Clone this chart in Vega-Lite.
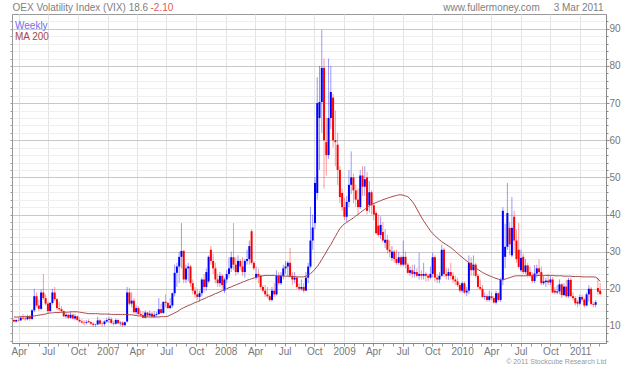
{
  "$schema": "https://vega.github.io/schema/vega-lite/v6.json",
  "width": 594,
  "height": 329,
  "autosize": {"type": "none"},
  "padding": {"left": 12, "top": 14, "right": 34, "bottom": 23},
  "background": "white",
  "config": {
    "font": "Liberation Sans",
    "view": {"stroke": "#999999"}
  },
  "data": {"values": [
{"d":"2006-03-17","o":11.6,"h":12.0,"l":11.0,"c":11.2,"m":12.4},
{"d":"2006-03-24","o":11.2,"h":11.8,"l":10.9,"c":11.6,"m":12.4},
{"d":"2006-03-31","o":11.6,"h":12.3,"l":11.1,"c":11.5,"m":12.4},
{"d":"2006-04-07","o":11.5,"h":12.6,"l":11.3,"c":12.2,"m":12.5},
{"d":"2006-04-14","o":12.2,"h":13.2,"l":11.6,"c":12.0,"m":12.5},
{"d":"2006-04-21","o":12.0,"h":12.8,"l":11.4,"c":11.8,"m":12.5},
{"d":"2006-04-28","o":11.8,"h":13.0,"l":11.5,"c":12.5,"m":12.5},
{"d":"2006-05-05","o":12.5,"h":12.8,"l":11.4,"c":11.9,"m":12.6},
{"d":"2006-05-12","o":11.9,"h":14.5,"l":11.6,"c":14.2,"m":12.6},
{"d":"2006-05-19","o":14.2,"h":20.0,"l":13.8,"c":18.0,"m":12.7},
{"d":"2006-05-26","o":18.0,"h":19.0,"l":15.0,"c":15.5,"m":12.8},
{"d":"2006-06-02","o":15.5,"h":17.0,"l":14.0,"c":14.6,"m":12.9},
{"d":"2006-06-09","o":14.6,"h":19.8,"l":14.2,"c":19.0,"m":13.0},
{"d":"2006-06-16","o":19.0,"h":24.0,"l":17.0,"c":17.5,"m":13.1},
{"d":"2006-06-23","o":17.5,"h":18.5,"l":15.5,"c":16.0,"m":13.2},
{"d":"2006-06-30","o":16.0,"h":16.5,"l":13.5,"c":14.0,"m":13.4},
{"d":"2006-07-07","o":14.0,"h":16.5,"l":13.8,"c":16.2,"m":13.5},
{"d":"2006-07-14","o":16.2,"h":20.0,"l":15.8,"c":19.0,"m":13.5},
{"d":"2006-07-21","o":19.0,"h":20.5,"l":16.8,"c":17.2,"m":13.6},
{"d":"2006-07-28","o":17.2,"h":17.5,"l":14.3,"c":14.8,"m":13.6},
{"d":"2006-08-04","o":14.8,"h":16.5,"l":14.0,"c":14.5,"m":13.6},
{"d":"2006-08-11","o":14.5,"h":15.3,"l":13.5,"c":14.0,"m":13.7},
{"d":"2006-08-18","o":14.0,"h":14.2,"l":12.3,"c":12.6,"m":13.7},
{"d":"2006-08-25","o":12.6,"h":13.5,"l":12.0,"c":13.0,"m":13.7},
{"d":"2006-09-01","o":13.0,"h":13.2,"l":11.8,"c":12.2,"m":13.7},
{"d":"2006-09-08","o":12.2,"h":13.8,"l":11.9,"c":13.0,"m":13.8},
{"d":"2006-09-15","o":13.0,"h":13.3,"l":11.8,"c":12.0,"m":13.8},
{"d":"2006-09-22","o":12.0,"h":13.2,"l":11.5,"c":12.6,"m":13.8},
{"d":"2006-09-29","o":12.6,"h":12.8,"l":11.3,"c":11.6,"m":13.8},
{"d":"2006-10-06","o":11.6,"h":12.3,"l":10.9,"c":11.2,"m":13.7},
{"d":"2006-10-13","o":11.2,"h":11.8,"l":10.6,"c":10.9,"m":13.6},
{"d":"2006-10-20","o":10.9,"h":11.6,"l":10.2,"c":10.8,"m":13.5},
{"d":"2006-10-27","o":10.8,"h":11.6,"l":10.4,"c":11.0,"m":13.4},
{"d":"2006-11-03","o":11.3,"h":11.8,"l":10.8,"c":11.0,"m":13.3},
{"d":"2006-11-10","o":11.0,"h":11.3,"l":10.3,"c":10.6,"m":13.3},
{"d":"2006-11-17","o":10.6,"h":11.0,"l":9.7,"c":10.3,"m":13.3},
{"d":"2006-11-24","o":10.3,"h":10.6,"l":9.8,"c":10.4,"m":13.3},
{"d":"2006-12-01","o":10.4,"h":12.5,"l":10.2,"c":11.5,"m":13.3},
{"d":"2006-12-08","o":11.5,"h":11.8,"l":10.2,"c":10.6,"m":13.2},
{"d":"2006-12-15","o":10.6,"h":11.2,"l":9.9,"c":10.5,"m":13.2},
{"d":"2006-12-22","o":10.5,"h":11.5,"l":10.0,"c":11.2,"m":13.2},
{"d":"2006-12-29","o":11.2,"h":12.2,"l":10.8,"c":11.6,"m":13.2},
{"d":"2007-01-05","o":11.6,"h":12.5,"l":10.8,"c":11.8,"m":13.2},
{"d":"2007-01-12","o":11.8,"h":12.3,"l":10.5,"c":10.8,"m":13.1},
{"d":"2007-01-19","o":10.8,"h":11.4,"l":10.1,"c":10.6,"m":13.1},
{"d":"2007-01-26","o":10.6,"h":12.0,"l":10.3,"c":11.6,"m":13.1},
{"d":"2007-02-02","o":11.6,"h":11.8,"l":10.4,"c":10.7,"m":13.1},
{"d":"2007-02-09","o":10.7,"h":11.3,"l":10.0,"c":10.9,"m":13.1},
{"d":"2007-02-16","o":10.9,"h":11.3,"l":9.8,"c":10.2,"m":13.1},
{"d":"2007-02-23","o":10.2,"h":11.2,"l":9.9,"c":11.0,"m":13.1},
{"d":"2007-03-02","o":11.2,"h":20.5,"l":10.9,"c":19.0,"m":13.1},
{"d":"2007-03-09","o":19.0,"h":20.3,"l":15.5,"c":16.0,"m":13.0},
{"d":"2007-03-16","o":16.0,"h":19.0,"l":15.0,"c":16.8,"m":13.0},
{"d":"2007-03-23","o":16.8,"h":17.5,"l":13.3,"c":13.7,"m":12.9},
{"d":"2007-03-30","o":13.7,"h":15.5,"l":13.0,"c":14.8,"m":12.8},
{"d":"2007-04-06","o":14.8,"h":15.3,"l":13.0,"c":13.2,"m":12.7},
{"d":"2007-04-13","o":13.2,"h":14.2,"l":12.5,"c":12.9,"m":12.7},
{"d":"2007-04-20","o":12.9,"h":14.0,"l":12.1,"c":12.2,"m":12.6},
{"d":"2007-04-27","o":12.2,"h":14.2,"l":12.0,"c":13.6,"m":12.5},
{"d":"2007-05-04","o":13.6,"h":13.8,"l":12.4,"c":12.8,"m":12.4},
{"d":"2007-05-11","o":12.8,"h":14.2,"l":12.5,"c":13.3,"m":12.4},
{"d":"2007-05-18","o":13.3,"h":13.8,"l":12.2,"c":12.5,"m":12.4},
{"d":"2007-05-25","o":12.5,"h":14.0,"l":12.2,"c":13.0,"m":12.4},
{"d":"2007-06-01","o":13.0,"h":13.8,"l":12.4,"c":13.2,"m":12.4},
{"d":"2007-06-08","o":13.2,"h":17.5,"l":12.9,"c":14.5,"m":12.4},
{"d":"2007-06-15","o":14.5,"h":16.0,"l":13.2,"c":13.5,"m":12.5},
{"d":"2007-06-22","o":13.5,"h":16.5,"l":13.2,"c":16.5,"m":12.5},
{"d":"2007-06-29","o":16.5,"h":18.5,"l":15.0,"c":16.2,"m":12.5},
{"d":"2007-07-06","o":16.2,"h":16.5,"l":14.5,"c":14.8,"m":12.6},
{"d":"2007-07-13","o":14.8,"h":17.5,"l":14.5,"c":15.5,"m":12.9},
{"d":"2007-07-20","o":15.5,"h":19.0,"l":14.9,"c":18.8,"m":13.2},
{"d":"2007-07-27","o":18.8,"h":26.5,"l":18.0,"c":24.3,"m":13.5},
{"d":"2007-08-03","o":24.3,"h":27.0,"l":20.5,"c":26.0,"m":13.8},
{"d":"2007-08-10","o":26.0,"h":30.0,"l":21.5,"c":28.6,"m":14.2},
{"d":"2007-08-17","o":28.6,"h":37.7,"l":25.5,"c":30.2,"m":14.6},
{"d":"2007-08-24","o":30.2,"h":30.5,"l":21.5,"c":22.5,"m":14.9},
{"d":"2007-08-31","o":22.5,"h":26.5,"l":21.5,"c":25.5,"m":15.2},
{"d":"2007-09-07","o":25.5,"h":27.0,"l":22.0,"c":26.0,"m":15.5},
{"d":"2007-09-14","o":26.0,"h":26.5,"l":20.5,"c":21.5,"m":15.7},
{"d":"2007-09-21","o":21.5,"h":22.5,"l":18.5,"c":19.5,"m":16.0},
{"d":"2007-09-28","o":19.5,"h":20.5,"l":17.5,"c":18.5,"m":16.3},
{"d":"2007-10-05","o":18.5,"h":20.0,"l":17.0,"c":17.8,"m":16.5},
{"d":"2007-10-12","o":17.8,"h":19.5,"l":16.5,"c":18.8,"m":16.8},
{"d":"2007-10-19","o":18.8,"h":23.0,"l":18.0,"c":22.5,"m":17.1},
{"d":"2007-10-26","o":22.5,"h":24.0,"l":19.0,"c":20.5,"m":17.3},
{"d":"2007-11-02","o":20.5,"h":25.5,"l":19.5,"c":24.5,"m":17.6},
{"d":"2007-11-09","o":22.0,"h":29.0,"l":21.5,"c":28.6,"m":17.9},
{"d":"2007-11-16","o":30.5,"h":31.5,"l":26.5,"c":27.5,"m":18.1},
{"d":"2007-11-23","o":27.5,"h":29.5,"l":24.0,"c":25.5,"m":18.4},
{"d":"2007-11-30","o":25.5,"h":27.0,"l":21.5,"c":22.5,"m":18.7},
{"d":"2007-12-07","o":22.5,"h":24.0,"l":20.5,"c":21.5,"m":18.9},
{"d":"2007-12-14","o":21.5,"h":24.5,"l":20.5,"c":23.5,"m":19.2},
{"d":"2007-12-21","o":23.5,"h":24.0,"l":20.0,"c":21.0,"m":19.5},
{"d":"2007-12-28","o":19.5,"h":23.0,"l":18.8,"c":22.5,"m":19.8},
{"d":"2008-01-04","o":22.5,"h":25.0,"l":21.5,"c":24.0,"m":20.0},
{"d":"2008-01-11","o":24.0,"h":28.5,"l":23.0,"c":25.5,"m":20.3},
{"d":"2008-01-18","o":25.5,"h":30.0,"l":24.5,"c":28.5,"m":20.5},
{"d":"2008-01-25","o":28.5,"h":37.7,"l":25.0,"c":26.5,"m":20.8},
{"d":"2008-02-01","o":26.5,"h":28.5,"l":23.5,"c":24.5,"m":21.0},
{"d":"2008-02-08","o":24.5,"h":29.0,"l":24.0,"c":27.5,"m":21.3},
{"d":"2008-02-15","o":27.5,"h":28.0,"l":25.0,"c":26.0,"m":21.5},
{"d":"2008-02-22","o":26.0,"h":28.5,"l":23.5,"c":24.5,"m":21.8},
{"d":"2008-02-29","o":24.5,"h":28.0,"l":23.0,"c":27.5,"m":22.0},
{"d":"2008-03-07","o":27.5,"h":30.5,"l":26.5,"c":28.0,"m":22.3},
{"d":"2008-03-14","o":28.0,"h":33.0,"l":26.5,"c":31.5,"m":22.5},
{"d":"2008-03-21","o":35.5,"h":36.0,"l":26.5,"c":27.0,"m":22.7},
{"d":"2008-03-28","o":27.0,"h":27.5,"l":25.0,"c":25.5,"m":22.9},
{"d":"2008-04-04","o":23.0,"h":26.0,"l":22.5,"c":24.0,"m":23.1},
{"d":"2008-04-11","o":24.0,"h":25.5,"l":21.5,"c":23.5,"m":23.3},
{"d":"2008-04-18","o":23.5,"h":23.8,"l":20.0,"c":20.5,"m":23.4},
{"d":"2008-04-25","o":20.5,"h":21.0,"l":19.0,"c":19.5,"m":23.5},
{"d":"2008-05-02","o":19.5,"h":21.0,"l":17.8,"c":18.5,"m":23.6},
{"d":"2008-05-09","o":18.5,"h":20.5,"l":17.5,"c":18.0,"m":23.6},
{"d":"2008-05-16","o":18.0,"h":18.5,"l":16.5,"c":17.0,"m":23.6},
{"d":"2008-05-23","o":17.0,"h":20.5,"l":16.5,"c":19.5,"m":23.6},
{"d":"2008-05-30","o":19.5,"h":21.5,"l":17.8,"c":18.5,"m":23.6},
{"d":"2008-06-06","o":18.5,"h":25.0,"l":18.2,"c":23.5,"m":23.5},
{"d":"2008-06-13","o":23.5,"h":24.5,"l":21.0,"c":21.5,"m":23.5},
{"d":"2008-06-20","o":21.5,"h":24.5,"l":21.0,"c":23.5,"m":23.5},
{"d":"2008-06-27","o":23.5,"h":26.5,"l":22.5,"c":25.5,"m":23.4},
{"d":"2008-07-04","o":25.5,"h":27.5,"l":24.0,"c":26.0,"m":23.4},
{"d":"2008-07-11","o":26.0,"h":27.5,"l":23.5,"c":27.0,"m":23.4},
{"d":"2008-07-18","o":27.0,"h":31.0,"l":23.0,"c":23.5,"m":23.3},
{"d":"2008-07-25","o":23.5,"h":24.5,"l":21.0,"c":22.5,"m":23.3},
{"d":"2008-08-01","o":22.5,"h":24.5,"l":21.5,"c":23.0,"m":23.3},
{"d":"2008-08-08","o":23.0,"h":23.5,"l":20.0,"c":20.5,"m":23.2},
{"d":"2008-08-15","o":20.5,"h":21.5,"l":19.5,"c":20.0,"m":23.2},
{"d":"2008-08-22","o":20.0,"h":22.5,"l":19.5,"c":20.5,"m":23.2},
{"d":"2008-08-29","o":20.5,"h":21.5,"l":19.0,"c":19.5,"m":23.2},
{"d":"2008-09-05","o":19.5,"h":24.5,"l":19.5,"c":23.0,"m":23.4},
{"d":"2008-09-12","o":23.0,"h":27.0,"l":21.5,"c":26.0,"m":23.7},
{"d":"2008-09-19","o":26.0,"h":42.0,"l":25.5,"c":33.0,"m":24.1},
{"d":"2008-09-26","o":33.0,"h":40.0,"l":30.5,"c":36.5,"m":24.6},
{"d":"2008-10-03","o":37.7,"h":50.0,"l":36.0,"c":48.5,"m":25.3},
{"d":"2008-10-10","o":45.8,"h":77.0,"l":44.0,"c":70.0,"m":26.0},
{"d":"2008-10-17","o":66.0,"h":80.0,"l":52.0,"c":70.3,"m":26.9},
{"d":"2008-10-24","o":70.3,"h":89.7,"l":62.0,"c":79.5,"m":27.9},
{"d":"2008-10-31","o":79.5,"h":82.0,"l":47.0,"c":60.0,"m":28.9},
{"d":"2008-11-07","o":59.5,"h":66.0,"l":50.5,"c":56.0,"m":29.9},
{"d":"2008-11-14","o":56.0,"h":82.0,"l":55.0,"c":66.0,"m":31.0},
{"d":"2008-11-21","o":66.0,"h":80.0,"l":63.0,"c":73.0,"m":31.9},
{"d":"2008-11-28","o":71.5,"h":72.5,"l":58.0,"c":60.0,"m":33.0},
{"d":"2008-12-05","o":60.0,"h":68.0,"l":53.0,"c":59.5,"m":34.1},
{"d":"2008-12-12","o":58.8,"h":62.0,"l":48.0,"c":52.0,"m":35.2},
{"d":"2008-12-19","o":52.0,"h":53.0,"l":43.0,"c":44.7,"m":36.2},
{"d":"2008-12-26","o":45.8,"h":47.0,"l":41.0,"c":42.0,"m":36.9},
{"d":"2009-01-02","o":42.0,"h":44.5,"l":38.5,"c":39.4,"m":37.5},
{"d":"2009-01-09","o":39.4,"h":45.0,"l":38.0,"c":43.4,"m":37.9},
{"d":"2009-01-16","o":43.4,"h":52.0,"l":42.0,"c":48.0,"m":38.3},
{"d":"2009-01-23","o":48.0,"h":57.0,"l":45.5,"c":50.0,"m":38.7},
{"d":"2009-01-30","o":50.0,"h":51.0,"l":43.0,"c":46.5,"m":39.1},
{"d":"2009-02-06","o":46.5,"h":48.0,"l":42.0,"c":44.0,"m":39.6},
{"d":"2009-02-13","o":44.0,"h":47.0,"l":40.0,"c":42.0,"m":40.0},
{"d":"2009-02-20","o":42.0,"h":52.0,"l":41.5,"c":50.5,"m":40.5},
{"d":"2009-02-27","o":50.5,"h":53.0,"l":45.0,"c":47.5,"m":41.0},
{"d":"2009-03-06","o":47.5,"h":53.0,"l":45.0,"c":49.5,"m":41.4},
{"d":"2009-03-13","o":50.0,"h":51.5,"l":40.0,"c":41.0,"m":41.9},
{"d":"2009-03-20","o":42.6,"h":49.0,"l":40.5,"c":46.0,"m":42.4},
{"d":"2009-03-27","o":46.0,"h":46.5,"l":40.0,"c":42.5,"m":42.7},
{"d":"2009-04-03","o":42.5,"h":43.0,"l":38.5,"c":40.0,"m":43.0},
{"d":"2009-04-10","o":40.4,"h":41.0,"l":34.5,"c":35.0,"m":43.2},
{"d":"2009-04-17","o":37.0,"h":40.0,"l":34.0,"c":34.5,"m":43.5},
{"d":"2009-04-24","o":34.5,"h":39.5,"l":33.5,"c":37.2,"m":43.7},
{"d":"2009-05-01","o":35.3,"h":38.0,"l":32.5,"c":33.0,"m":44.0},
{"d":"2009-05-08","o":32.4,"h":36.0,"l":31.0,"c":33.2,"m":44.2},
{"d":"2009-05-15","o":33.2,"h":34.5,"l":29.5,"c":30.5,"m":44.4},
{"d":"2009-05-22","o":30.5,"h":33.0,"l":28.5,"c":30.0,"m":44.6},
{"d":"2009-05-29","o":28.3,"h":31.5,"l":27.5,"c":30.0,"m":44.8},
{"d":"2009-06-05","o":30.0,"h":30.5,"l":27.0,"c":28.0,"m":45.0},
{"d":"2009-06-12","o":28.0,"h":30.5,"l":26.5,"c":27.0,"m":45.1},
{"d":"2009-06-19","o":27.0,"h":30.0,"l":26.5,"c":28.5,"m":45.3},
{"d":"2009-06-26","o":28.5,"h":29.0,"l":26.0,"c":26.5,"m":45.3},
{"d":"2009-07-03","o":26.5,"h":33.0,"l":26.0,"c":28.6,"m":45.2},
{"d":"2009-07-10","o":28.6,"h":30.0,"l":25.5,"c":26.5,"m":45.0},
{"d":"2009-07-17","o":26.5,"h":27.0,"l":24.0,"c":24.3,"m":44.8},
{"d":"2009-07-24","o":24.3,"h":26.0,"l":23.5,"c":25.0,"m":44.2},
{"d":"2009-07-31","o":25.0,"h":26.5,"l":23.0,"c":24.0,"m":43.5},
{"d":"2009-08-07","o":24.0,"h":26.5,"l":23.0,"c":24.5,"m":42.6},
{"d":"2009-08-14","o":24.5,"h":25.5,"l":23.0,"c":23.5,"m":41.5},
{"d":"2009-08-21","o":23.5,"h":29.7,"l":22.5,"c":24.0,"m":40.4},
{"d":"2009-08-28","o":24.0,"h":25.0,"l":22.5,"c":23.5,"m":39.3},
{"d":"2009-09-04","o":23.5,"h":27.0,"l":22.5,"c":24.0,"m":38.3},
{"d":"2009-09-11","o":24.0,"h":24.5,"l":22.0,"c":23.5,"m":37.4},
{"d":"2009-09-18","o":23.5,"h":24.0,"l":22.0,"c":23.0,"m":36.5},
{"d":"2009-09-25","o":23.0,"h":26.0,"l":22.5,"c":24.0,"m":35.6},
{"d":"2009-10-02","o":24.0,"h":29.7,"l":23.0,"c":28.5,"m":34.9},
{"d":"2009-10-09","o":28.5,"h":29.0,"l":22.0,"c":23.0,"m":34.3},
{"d":"2009-10-16","o":23.0,"h":24.0,"l":21.5,"c":22.5,"m":33.7},
{"d":"2009-10-23","o":22.5,"h":24.5,"l":21.5,"c":23.5,"m":33.2},
{"d":"2009-10-30","o":23.5,"h":31.8,"l":23.2,"c":30.5,"m":32.7},
{"d":"2009-11-06","o":30.5,"h":31.0,"l":23.2,"c":24.0,"m":32.3},
{"d":"2009-11-13","o":24.0,"h":25.5,"l":22.5,"c":23.5,"m":31.9},
{"d":"2009-11-20","o":23.5,"h":25.5,"l":22.4,"c":24.5,"m":31.5},
{"d":"2009-11-27","o":24.5,"h":27.0,"l":22.5,"c":23.5,"m":31.1},
{"d":"2009-12-04","o":23.5,"h":24.5,"l":21.5,"c":22.5,"m":30.6},
{"d":"2009-12-11","o":22.5,"h":23.5,"l":21.0,"c":22.0,"m":30.1},
{"d":"2009-12-18","o":22.0,"h":23.0,"l":20.5,"c":21.0,"m":29.5},
{"d":"2009-12-25","o":21.0,"h":21.5,"l":19.0,"c":19.5,"m":29.0},
{"d":"2010-01-01","o":19.5,"h":22.0,"l":19.0,"c":21.5,"m":28.5},
{"d":"2010-01-08","o":21.5,"h":22.0,"l":18.5,"c":19.0,"m":28.0},
{"d":"2010-01-15","o":19.0,"h":20.5,"l":18.0,"c":19.5,"m":27.5},
{"d":"2010-01-22","o":19.5,"h":29.0,"l":18.5,"c":27.0,"m":27.0},
{"d":"2010-01-29","o":27.0,"h":28.5,"l":23.5,"c":25.0,"m":26.5},
{"d":"2010-02-05","o":25.0,"h":29.0,"l":23.5,"c":26.5,"m":26.0},
{"d":"2010-02-12","o":26.5,"h":27.0,"l":23.0,"c":23.5,"m":25.6},
{"d":"2010-02-19","o":23.5,"h":24.0,"l":20.0,"c":20.5,"m":25.2},
{"d":"2010-02-26","o":20.5,"h":22.5,"l":19.5,"c":20.0,"m":24.8},
{"d":"2010-03-05","o":20.0,"h":21.0,"l":17.5,"c":17.8,"m":24.4},
{"d":"2010-03-12","o":17.8,"h":19.0,"l":17.0,"c":18.0,"m":24.1},
{"d":"2010-03-19","o":18.0,"h":18.5,"l":16.5,"c":17.0,"m":23.8},
{"d":"2010-03-26","o":17.0,"h":19.5,"l":16.5,"c":18.0,"m":23.5},
{"d":"2010-04-02","o":18.0,"h":19.0,"l":17.0,"c":17.5,"m":23.3},
{"d":"2010-04-09","o":17.5,"h":18.0,"l":16.0,"c":16.3,"m":23.0},
{"d":"2010-04-16","o":16.3,"h":19.5,"l":15.8,"c":18.8,"m":22.8},
{"d":"2010-04-23","o":18.8,"h":19.0,"l":16.5,"c":17.0,"m":22.6},
{"d":"2010-04-30","o":17.0,"h":23.0,"l":16.5,"c":22.4,"m":22.4},
{"d":"2010-05-07","o":22.4,"h":42.0,"l":21.0,"c":41.0,"m":22.4},
{"d":"2010-05-14","o":28.6,"h":37.5,"l":25.5,"c":31.3,"m":22.6},
{"d":"2010-05-21","o":31.3,"h":48.5,"l":30.5,"c":40.4,"m":22.8},
{"d":"2010-05-28","o":36.4,"h":38.0,"l":29.0,"c":32.0,"m":23.0},
{"d":"2010-06-04","o":29.0,"h":44.7,"l":28.5,"c":36.4,"m":23.2},
{"d":"2010-06-11","o":39.4,"h":41.0,"l":30.0,"c":33.0,"m":23.4},
{"d":"2010-06-18","o":33.0,"h":36.0,"l":27.0,"c":28.0,"m":23.5},
{"d":"2010-06-25","o":30.5,"h":37.7,"l":25.5,"c":25.9,"m":23.5},
{"d":"2010-07-02","o":25.0,"h":30.5,"l":24.5,"c":28.3,"m":23.5},
{"d":"2010-07-09","o":28.6,"h":29.5,"l":24.0,"c":24.5,"m":23.5},
{"d":"2010-07-16","o":24.5,"h":28.0,"l":24.0,"c":26.3,"m":23.5},
{"d":"2010-07-23","o":26.3,"h":27.0,"l":23.0,"c":23.7,"m":23.6},
{"d":"2010-07-30","o":24.5,"h":26.0,"l":23.0,"c":23.7,"m":23.6},
{"d":"2010-08-06","o":23.5,"h":24.5,"l":21.5,"c":22.1,"m":23.6},
{"d":"2010-08-13","o":22.1,"h":26.4,"l":21.5,"c":24.1,"m":23.6},
{"d":"2010-08-20","o":24.1,"h":26.5,"l":23.0,"c":25.5,"m":23.6},
{"d":"2010-08-27","o":25.5,"h":28.0,"l":23.5,"c":24.5,"m":23.6},
{"d":"2010-09-03","o":24.5,"h":26.0,"l":21.0,"c":21.5,"m":23.6},
{"d":"2010-09-10","o":21.5,"h":23.5,"l":21.0,"c":22.0,"m":23.6},
{"d":"2010-09-17","o":21.8,"h":23.0,"l":20.5,"c":22.2,"m":23.6},
{"d":"2010-09-24","o":22.2,"h":24.0,"l":21.0,"c":21.7,"m":23.6},
{"d":"2010-10-01","o":21.7,"h":23.5,"l":21.0,"c":22.5,"m":23.6},
{"d":"2010-10-08","o":22.5,"h":23.2,"l":18.8,"c":19.0,"m":23.6},
{"d":"2010-10-15","o":19.5,"h":20.5,"l":18.5,"c":19.0,"m":23.5},
{"d":"2010-10-22","o":19.0,"h":21.0,"l":18.5,"c":19.3,"m":23.5},
{"d":"2010-10-29","o":19.3,"h":22.5,"l":18.5,"c":21.2,"m":23.5},
{"d":"2010-11-05","o":21.2,"h":21.5,"l":17.5,"c":18.3,"m":23.5},
{"d":"2010-11-12","o":18.3,"h":21.5,"l":18.0,"c":20.6,"m":23.4},
{"d":"2010-11-19","o":20.6,"h":22.4,"l":17.5,"c":18.0,"m":23.4},
{"d":"2010-11-26","o":18.0,"h":23.0,"l":17.5,"c":22.4,"m":23.4},
{"d":"2010-12-03","o":22.4,"h":23.0,"l":17.8,"c":18.0,"m":23.4},
{"d":"2010-12-10","o":18.0,"h":19.0,"l":16.8,"c":17.5,"m":23.3},
{"d":"2010-12-17","o":17.5,"h":18.0,"l":15.5,"c":16.1,"m":23.3},
{"d":"2010-12-24","o":16.5,"h":17.0,"l":15.0,"c":16.0,"m":23.3},
{"d":"2010-12-31","o":16.0,"h":18.5,"l":15.5,"c":17.8,"m":23.3},
{"d":"2011-01-07","o":17.8,"h":18.4,"l":16.5,"c":17.1,"m":23.2},
{"d":"2011-01-14","o":17.1,"h":17.5,"l":15.0,"c":15.5,"m":23.2},
{"d":"2011-01-21","o":15.5,"h":19.0,"l":15.3,"c":18.5,"m":23.2},
{"d":"2011-01-28","o":18.5,"h":21.0,"l":16.5,"c":20.0,"m":23.2},
{"d":"2011-02-04","o":20.0,"h":20.5,"l":15.5,"c":15.9,"m":23.2},
{"d":"2011-02-11","o":15.9,"h":16.5,"l":15.0,"c":15.7,"m":23.2},
{"d":"2011-02-18","o":15.7,"h":17.0,"l":15.0,"c":16.4,"m":23.1},
{"d":"2011-02-25","o":20.2,"h":23.0,"l":18.4,"c":19.2,"m":22.7},
{"d":"2011-03-04","o":19.5,"h":21.5,"l":18.3,"c":18.6,"m":22.0}
  ]},
  "encoding": {
    "x": {
      "field": "d", "type": "temporal",
      "scale": {"type": "utc", "domain": [{"year": 2006, "month": 3, "date": 11, "utc": true}, {"year": 2011, "month": 3, "date": 22, "utc": true}]},
      "axis": {
        "tickCount": {"interval": "month", "step": 1},
        "labelExpr": "utcmonth(datum.value) == 0 ? utcFormat(datum.value, '%Y') : (utcmonth(datum.value) % 3 == 0 ? utcFormat(datum.value, '%b') : '')",
        "grid": true,
        "gridColor": "#e3e3e3",
        "gridOpacity": {"condition": {"test": "utcmonth(datum.value) % 3 == 0", "value": 1}, "value": 0},
        "tickSize": 3,
        "tickColor": "#999999",
        "domainColor": "#888888",
        "labelColor": "#777777",
        "labelFontSize": 10,
        "labelPadding": 0,
        "labelOverlap": false,
        "labelFlush": false,
        "title": "© 2011 Stockcube Research Ltd",
        "titleAnchor": "end",
        "titleFontSize": 7,
        "titleFontWeight": "normal",
        "titleColor": "#999999",
        "titlePadding": 1
      }
    }
  },
  "layer": [
    {
      "mark": {"type": "rule", "strokeWidth": 1, "opacity": 0.4},
      "encoding": {
        "y": {
          "field": "h", "type": "quantitative",
          "scale": {"domain": [5.4, 94], "nice": false, "zero": false},
          "axis": {
            "orient": "right",
            "values": [6,8,10,12,14,16,18,20,22,24,26,28,30,32,34,36,38,40,42,44,46,48,50,52,54,56,58,60,62,64,66,68,70,72,74,76,78,80,82,84,86,88,90,92],
            "labelExpr": "datum.value % 10 == 0 ? datum.label : ''",
            "grid": true,
            "gridColor": {"condition": {"test": "datum.value % 10 == 0", "value": "#c8c8c8"}, "value": "#efefef"},
            "tickSize": {"condition": {"test": "datum.value % 10 == 0", "value": 3}, "value": 2},
            "tickColor": "#888888",
            "domainColor": "#888888",
            "labelColor": "#777777",
            "labelFontSize": 10,
            "labelPadding": 0,
            "labelOverlap": false,
            "labelFlush": false,
            "labelBound": false,
            "title": "www.fullermoney.com\u00a0\u00a0\u00a0\u00a0\u00a03 Mar 2011",
            "titleAngle": 0,
            "titleAlign": "right",
            "titleBaseline": "alphabetic",
            "titleX": -3,
            "titleY": -4,
            "titleFontSize": 10,
            "titleFontWeight": "normal",
            "titleColor": "#808080"
          }
        },
        "y2": {"field": "l"},
        "color": {"condition": {"test": "datum.c >= datum.o", "value": "#0000ff"}, "value": "#ff0000"}
      }
    },
    {
      "mark": {"type": "rule", "strokeWidth": 2},
      "encoding": {
        "x": {"field": "d", "type": "temporal", "axis": null},
        "y": {
          "field": "o", "type": "quantitative",
          "scale": {"domain": [5.4, 94], "nice": false, "zero": false},
          "axis": {
            "orient": "left",
            "values": [6,8,10,12,14,16,18,20,22,24,26,28,30,32,34,36,38,40,42,44,46,48,50,52,54,56,58,60,62,64,66,68,70,72,74,76,78,80,82,84,86,88,90,92],
            "labels": false,
            "grid": false,
            "tickSize": 2,
            "tickColor": "#999999",
            "domainColor": "#999999",
            "title": "OEX Volatility Index (VIX) 18.6",
            "titleAngle": 0,
            "titleAlign": "left",
            "titleBaseline": "alphabetic",
            "titleX": 0,
            "titleY": -4,
            "titleFontSize": 10,
            "titleFontWeight": "normal",
            "titleColor": "#808080"
          }
        },
        "y2": {"field": "c"},
        "color": {"condition": {"test": "datum.c >= datum.o", "value": "#0000ff"}, "value": "#ff0000"}
      }
    },
    {
      "mark": {"type": "line", "strokeWidth": 1},
      "encoding": {
        "x": {
          "field": "d", "type": "temporal",
          "axis": {
            "orient": "top",
            "labels": false,
            "ticks": false,
            "domain": false,
            "grid": false,
            "title": "-2.10",
            "titleAngle": 0,
            "titleAlign": "left",
            "titleBaseline": "alphabetic",
            "titleX": 138,
            "titleY": -4,
            "titleFontSize": 10,
            "titleFontWeight": "normal",
            "titleColor": "#e05858"
          }
        },
        "y": {"field": "m", "type": "quantitative", "scale": {"domain": [5.4, 94], "nice": false, "zero": false}, "axis": null},
        "color": {
          "datum": "MA 200",
          "type": "nominal",
          "scale": {"domain": ["Weekly", "MA 200"], "range": ["#6e6ef0", "#a84848"]},
          "legend": {
            "title": null,
            "orient": "none",
            "legendX": -7,
            "legendY": 7,
            "padding": 0,
            "symbolType": "circle",
            "symbolSize": 1,
            "symbolStrokeWidth": 0,
            "symbolOpacity": 0,
            "labelOffset": 0,
            "labelFontSize": 10,
            "rowPadding": 1,
            "encode": {"labels": {"update": {"fill": {"signal": "datum.label == 'Weekly' ? '#6e6ef0' : '#a84848'"}}}}
          }
        }
      }
    }
  ],
  "resolve": {"axis": {"x": "independent", "y": "independent"}}
}
